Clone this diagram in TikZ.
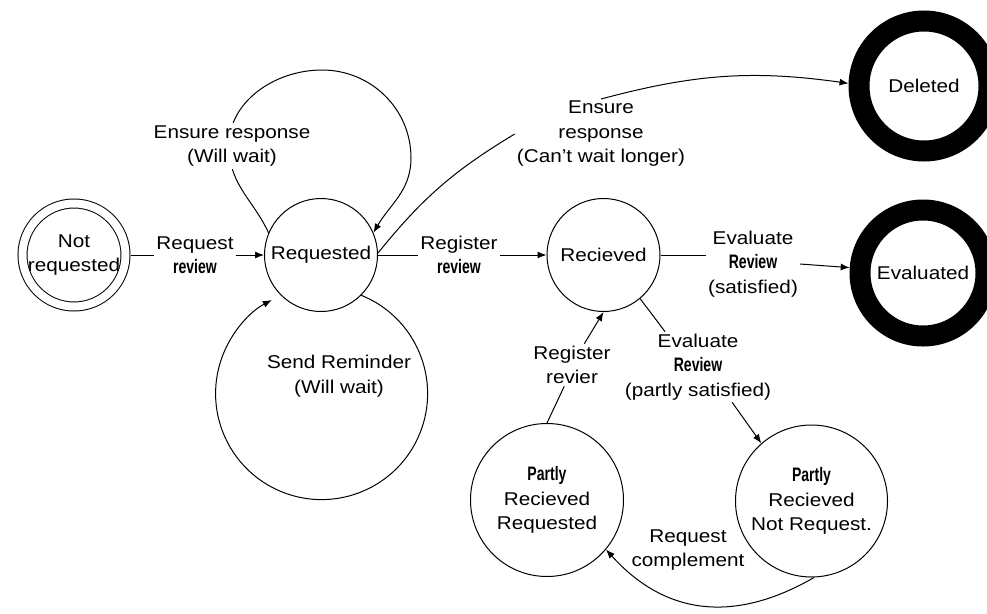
\documentclass[tikz,border=0pt]{standalone}
\usepackage{fontspec}
\setmainfont{Liberation Sans}[FakeStretch=1.12]
\newfontfamily\narrowfont{Liberation Sans}[FakeStretch=0.72]
\newcommand\smalltxt[1]{{\narrowfont\bfseries\fontsize{19.5}{22}\selectfont #1}}
\usetikzlibrary{arrows.meta}
\begin{document}
\begin{tikzpicture}[x=1pt,y=1pt,
  every node/.style={font=\fontsize{18.5}{24.5}\selectfont, align=center},
  st/.style={draw, circle, line width=1pt, inner sep=0pt},
  fin/.style={draw, circle, line width=21pt, inner sep=0pt, minimum size=126pt, outer sep=10.5pt},
  lab/.style={inner sep=2pt},
  conn/.style={line width=1pt},
  arr/.style={conn, -{Latex[length=9pt,width=7pt]}}]
\fill[white] (0,0) rectangle (987,-613);
\useasboundingbox (0,0) rectangle (987,-613);

% states
\node[st, double, double distance=8pt, minimum size=103pt, outer sep=5pt] (nr) at (74,-255) {Not\\requested};
\node[st, minimum size=113pt] (req) at (321,-255) {Requested};
\node[st, minimum size=113pt] (rec) at (603.5,-255) {Recieved};
\node[fin] (eval) at (923,-273) {Evaluated};
\node[fin, minimum size=130pt] (del) at (924,-86) {Deleted};
\node[st, minimum size=153pt] (prr) at (547,-500) {\smalltxt{Partly}\\Recieved\\Requested};
\node[st, minimum size=152pt] (pnr) at (811.5,-501) {\smalltxt{Partly}\\Recieved\\Not Request.};

% labels
\node[lab] (rqr) at (195,-255) {Request\\\smalltxt{review}};
\node[lab] (rr) at (459,-255) {Register\\\smalltxt{review}};
\node[lab] (evlab) at (753,-264) {Evaluate\\\smalltxt{Review}\\(satisfied)};
\node[lab] (cw) at (601,-134) {Ensure\\response\\(Can't wait longer)};
\node[lab] (sr) at (339,-376) {Send Reminder\\(Will wait)};
\node[lab] (rv) at (572,-365) {Register\\revier};
\node[lab] (ep) at (698,-367) {Evaluate\\\smalltxt{Review}\\(partly satisfied)};
\node[lab] (rc) at (688,-550) {Request\\complement};

% Not requested -> Requested
\draw[conn] (nr) -- (rqr);
\draw[arr] (rqr) -- (req);
% Requested -> Recieved
\draw[conn] (req) -- (rr);
\draw[arr] (rr) -- (rec);
% Recieved -> Evaluated
\draw[conn] (rec.east) -- (rec.east -| evlab.west);
\draw[arr] (evlab.east) -- (eval);
% Requested -> Deleted
\draw[conn] (req.2) to[bend left=10] (cw.west);
\draw[arr] (cw.north) to[out=15,in=172] (del.178);
% self loop top
\coordinate (l1) at (229,-152);
\coordinate (l2) at (322,-70);
\coordinate (l3) at (411,-158);
\draw[arr] (req.157) to[out=115,in=-85] (l1) to[out=95,in=180] (l2) to[out=0,in=90] (l3) to[out=-90,in=60] (req.23);
\node[lab, fill=white] (ew) at (232,-146) {Ensure response\\(Will wait)};
% self loop bottom
\draw[arr] (req.-45) arc[start angle=68, end angle=-242, radius=106pt];
% Partly received requested -> Recieved
\draw[conn] (prr.north) -- (rv.-110);
\draw[arr] (rv.60) -- (rec.-90);
% Recieved -> Partly not requested
\draw[conn] (rec.-50) -- (ep.133);
\draw[arr] (ep.-46) -- (pnr.131);
% Partly not requested -> Partly requested
\draw[arr] (pnr.-88) to[out=-150,in=-48,looseness=1.1] (prr.-40);
\end{tikzpicture}
\end{document}
